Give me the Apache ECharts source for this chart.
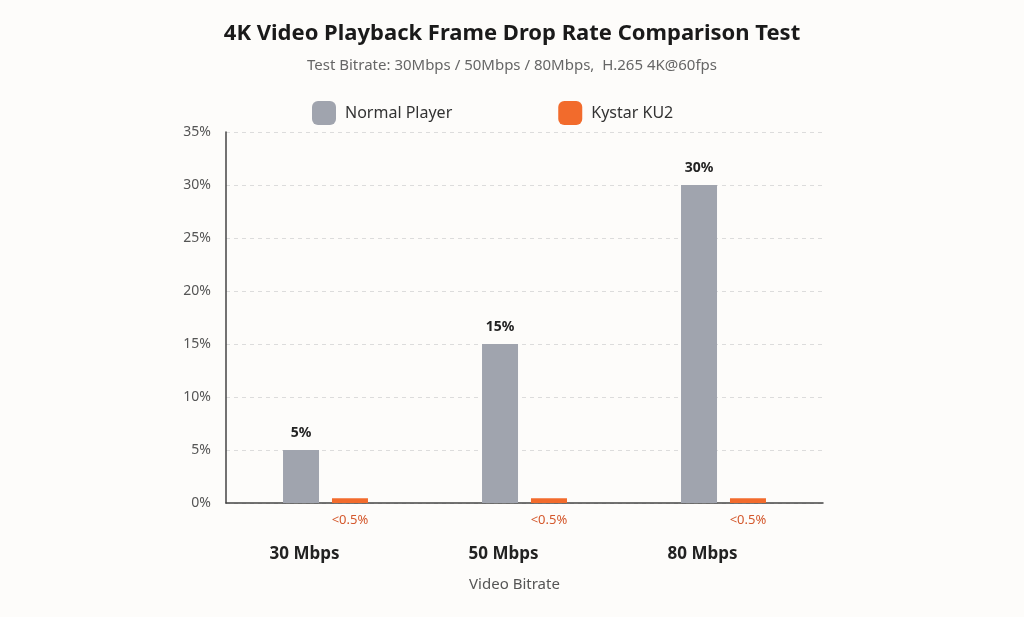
<!DOCTYPE html>
<html>
<head>
<meta charset="utf-8">
<script src="https://cdn.jsdelivr.net/npm/echarts@6/dist/echarts.min.js"></script>
<style>
  html, body { margin: 0; padding: 0; background: #fdfcfa; }
  #chart { width: 1024px; height: 617px; }
</style>
</head>
<body>
<div id="chart"></div>
<script>
// data
var categories = ['30 Mbps', '50 Mbps', '80 Mbps'];
var normalPlayer = [5, 15, 30];
var kystarKU2 = [0.45, 0.45, 0.45];
var kystarLabels = ['<0.5%', '<0.5%', '<0.5%'];
var yTicks = [0, 5, 10, 15, 20, 25, 30, 35];

var FONT = '"Noto Sans", "Open Sans", sans-serif';

var chart = echarts.init(document.getElementById('chart'));

var option = {
    backgroundColor: '#fdfcfa',
    textStyle: { fontFamily: FONT },
    title: {
        text: '4K Video Playback Frame Drop Rate Comparison Test',
        subtext: 'Test Bitrate: 30Mbps / 50Mbps / 80Mbps,  H.265 4K@60fps',
        left: 'center',
        top: 18,
        itemGap: 13,
        textStyle: { fontFamily: FONT, fontSize: 22, fontWeight: 'bold', color: '#1a1a1a' },
        subtextStyle: { fontFamily: FONT, fontSize: 15, color: '#666' }
    },
    legend: {
        top: 96,
        left: 307,
        itemWidth: 24,
        itemHeight: 24,
        itemGap: 106,
        icon: 'roundRect',
        textStyle: { fontFamily: FONT, fontSize: 16, color: '#333', padding: [0, 0, 0, 4] },
        data: ['Normal Player', 'Kystar KU2']
    },
    grid: {
        left: 226,
        right: 201,
        top: 132,
        bottom: 114,
        containLabel: false
    },
    xAxis: {
        type: 'category',
        data: categories,
        name: 'Video Bitrate',
        nameLocation: 'middle',
        nameGap: 74,
        nameTextStyle: { fontFamily: FONT, fontSize: 15, color: '#555', padding: [0, 20, 0, 0] },
        axisLine: { lineStyle: { color: '#444', width: 1.5 } },
        axisTick: { show: false },
        axisLabel: {
            margin: 43,
            fontFamily: FONT,
            fontSize: 17,
            fontWeight: 'bold',
            color: '#222',
            padding: [0, 42, 0, 0]
        }
    },
    yAxis: {
        type: 'value',
        min: 0,
        max: 35,
        interval: 5,
        axisLine: { show: true, lineStyle: { color: '#444', width: 1.5 } },
        axisTick: { show: false },
        axisLabel: {
            margin: 15,
            fontFamily: FONT,
            fontSize: 14,
            color: '#555',
            formatter: function (v) { return yTicks.indexOf(v) >= 0 ? v + '%' : ''; }
        },
        splitLine: { lineStyle: { color: '#dcdcdc', type: [4, 4] } }
    },
    series: [
        {
            name: 'Normal Player',
            type: 'bar',
            data: normalPlayer,
            barWidth: 36,
            barGap: '36%',
            itemStyle: { color: '#a0a4ae' },
            label: {
                show: true,
                position: 'top',
                distance: 10,
                fontFamily: FONT,
                fontSize: 14,
                fontWeight: 'bold',
                color: '#222',
                formatter: '{c}%'
            }
        },
        {
            name: 'Kystar KU2',
            type: 'bar',
            data: kystarKU2,
            barWidth: 36,
            itemStyle: { color: '#f26b2c' },
            label: {
                show: true,
                position: 'bottom',
                distance: 11,
                fontFamily: FONT,
                fontSize: 13,
                color: '#d4582c',
                formatter: function (p) { return kystarLabels[p.dataIndex]; }
            }
        }
    ]
};

chart.setOption(option);
</script>
</body>
</html>
